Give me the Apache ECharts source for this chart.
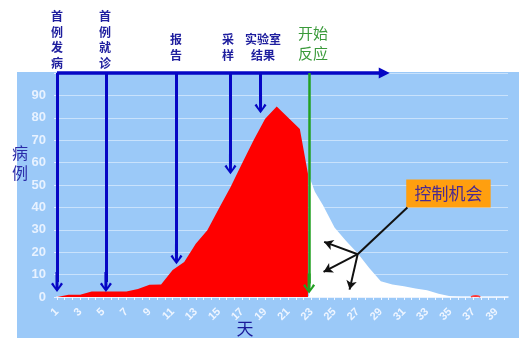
<!DOCTYPE html>
<html>
<head>
<meta charset="utf-8">
<script src="https://cdn.jsdelivr.net/npm/echarts@6/dist/echarts.min.js"></script>
<style>
html,body{margin:0;padding:0;background:#fff;}
#main{width:519px;height:341px;}
</style>
</head>
<body>
<div id="main"></div>
<script>
// ---- data ----
var tickLabels = [1,3,5,7,9,11,13,15,17,19,21,23,25,27,29,31,33,35,37,39];
var yTicks = [0,10,20,30,40,50,60,70,80,90];
// epidemic curve (red), day -> cases
var redDays   = [1,2,3,4,5,6,7,8,9,10,11,12,13,14,15,16,17,18,19,20,21,22,22.7];
var redValues = [0,1,1,2.5,2.5,2.5,2.5,3.6,5.5,5.6,12,15.6,23.8,29.8,39.5,49,59.6,70,79.6,85,80,75,55];
// cases preventable after response (white)
var whiteDays   = [22.8,23.3,24,25,26,27,28,29,30,31,32,33,34,35,36];
var whiteValues = [54,47,41,31,25,19.5,13,7,5.6,4.8,3.8,3,1.5,0.3,0];
// small later blip
var blipDays   = [36.8,37.2,37.6];
var blipValues = [0,0.6,0];
// events (day, arrow tip value)
var events = [
  {name:'首例发病', day:1.0,  tip:6.7},
  {name:'首例就诊', day:5.23, tip:6.7},
  {name:'报告',     day:11.33, tip:19.1},
  {name:'采样',     day:16.0, tip:59.3},
  {name:'实验室结果', day:18.6, tip:86.5}
];
var response = {name:'开始反应', day:22.8, tip:6};
var hub = [27.0, 19.1];
var hubTargets = [[24.1,24.6],[24.05,11.2],[26.3,3.3]];
var boxFrom = [31.2, 52.4], boxTo = [38.5, 39.9];
var boxCorner = [31.3, 40];
var timelineEnd = 29.3;

function pairs(xs, ys){ return xs.map(function(x,i){return [x, ys[i]];}); }

var blue = '#0606c4';
var chevron = 'path://M6,0 L12,8 L10,9.5 L7.5,5 L7.5,20 L4.5,20 L4.5,5 L2,9.5 L0,8 Z';

var minorTicks = [];
for (var t = 1; t <= 40.001; t += 2/3) minorTicks.push(+t.toFixed(3));

var markLines = [];
// top timeline arrow
markLines.push([
  {coord:[1,100], symbol:'none'},
  {coord:[timelineEnd,100], symbol:'triangle', symbolSize:[11,11],
   lineStyle:{color:blue, width:3.5}}
]);
events.forEach(function(e){
  markLines.push([
    {coord:[e.day,100], symbol:'none'},
    {coord:[e.day,e.tip], symbol:chevron, symbolSize:[12,20],
     lineStyle:{color:blue, width:3}, itemStyle:{color:blue}}
  ]);
});
markLines.push([
  {coord:[response.day,100], symbol:'none'},
  {coord:[response.day,response.tip], symbol:chevron, symbolSize:[12,20],
   lineStyle:{color:'#22a022', width:2.5}, itemStyle:{color:'#22a022'}}
]);
markLines.push([
  {coord:boxCorner, symbol:'none'},
  {coord:hub, symbol:'none', lineStyle:{color:'#111', width:2}}
]);
hubTargets.forEach(function(p){
  markLines.push([
    {coord:hub, symbol:'none'},
    {coord:p, symbol:'arrow', symbolSize:[8,9], lineStyle:{color:'#111', width:2}, itemStyle:{color:'#111'}}
  ]);
});

var chart = echarts.init(document.getElementById('main'));
chart.setOption({
  animation:false,
  backgroundColor:'#ffffff',
  graphic:[
    {type:'rect', z:-10, shape:{x:17,y:72,width:502,height:266}, style:{fill:'#9bc9f8'}},
    {type:'text', x:57, y:9, style:{text:'首\n例\n发\n病', align:'center', font:'bold 12px "Noto Sans CJK SC"', lineHeight:15.5, fill:'#1e1e9e'}},
    {type:'text', x:105, y:9, style:{text:'首\n例\n就\n诊', align:'center', font:'bold 12px "Noto Sans CJK SC"', lineHeight:15.5, fill:'#1e1e9e'}},
    {type:'text', x:176, y:32, style:{text:'报\n告', align:'center', font:'bold 12px "Noto Sans CJK SC"', lineHeight:15.5, fill:'#1e1e9e'}},
    {type:'text', x:228, y:32, style:{text:'采\n样', align:'center', font:'bold 12px "Noto Sans CJK SC"', lineHeight:15.5, fill:'#1e1e9e'}},
    {type:'text', x:263, y:32, style:{text:'实验室\n结果', align:'center', font:'bold 12px "Noto Sans CJK SC"', lineHeight:15.5, fill:'#1e1e9e'}},
    {type:'text', x:313, y:23, style:{text:'开始\n反应', align:'center', font:'15px "Noto Sans CJK SC"', lineHeight:20, fill:'#3a9a3a'}},
    {type:'text', x:20, y:143, style:{text:'病\n例', align:'center', font:'16px "Noto Sans CJK SC"', lineHeight:20, fill:'#2a2aa8'}},
    {type:'text', x:245, y:320, style:{text:'天', align:'center', font:'17px "Noto Sans CJK SC"', fill:'#1a1a9a'}}
  ],
  grid:{left:57, right:11, top:73, bottom:44},
  xAxis:{
    type:'value', min:1, max:40,
    axisLine:{show:true, lineStyle:{color:'#f2f7ff', width:1.5}},
    axisTick:{show:true, customValues:minorTicks, length:3, lineStyle:{color:'#f2f7ff'}},
    axisLabel:{customValues:tickLabels, rotate:45, color:'#eef5ff', fontSize:11, fontWeight:'bold', fontFamily:'Liberation Sans', margin:13},
    splitLine:{show:false}
  },
  yAxis:{
    type:'value', min:0, max:100, interval:10,
    axisLine:{show:false},
    axisTick:{show:true, length:3, lineStyle:{color:'#e4efff'}},
    axisLabel:{color:'#e8f2ff', fontSize:13, fontWeight:'bold', fontFamily:'Liberation Sans', margin:11,
      formatter:function(v){ return yTicks.indexOf(v) >= 0 ? String(v) : ''; }},
    splitLine:{show:true, lineStyle:{color:'#c9e2fc', width:1}}
  },
  series:[
    {type:'line', data:pairs(whiteDays, whiteValues), symbol:'none', lineStyle:{width:0},
     areaStyle:{color:'#ffffff', opacity:1}, z:2},
    {type:'line', data:pairs(blipDays, blipValues), symbol:'none', smooth:true, lineStyle:{width:1.5, color:'#ff4040'},
     areaStyle:{color:'#ff2020', opacity:1}, z:2},
    {type:'line', data:pairs(redDays, redValues), symbol:'none', lineStyle:{width:0},
     areaStyle:{color:'#ff0000', opacity:1}, z:3,
     markArea:{silent:true, z:5,
       itemStyle:{color:'#ff9f0f', opacity:1},
       label:{show:true, position:'inside', color:'#4a2a90', fontSize:17, fontFamily:'Noto Sans CJK SC'},
       data:[[{name:'控制机会', coord:boxFrom}, {coord:boxTo}]]},
     markLine:{silent:true, z:6, symbol:['none','none'], label:{show:false},
       lineStyle:{type:'solid', color:blue, width:3},
       data:markLines}
    }
  ]
});
</script>
</body>
</html>
